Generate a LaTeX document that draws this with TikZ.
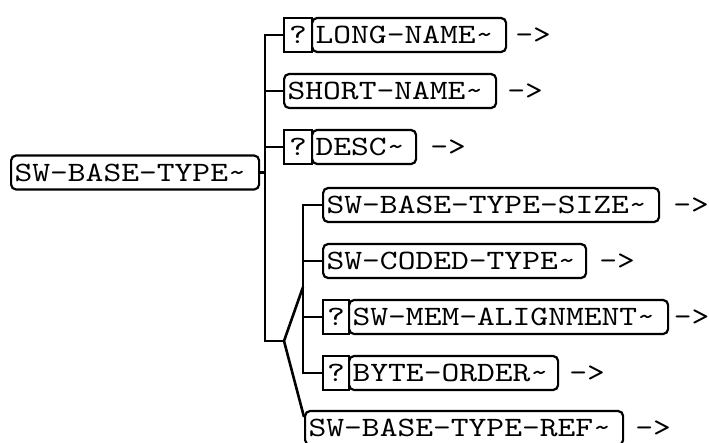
\documentclass[tikz,border=0pt]{standalone}
\usepackage{fontspec}
\newfontfamily\boxfont{lmmono10-regular.otf}[FakeStretch=1.21]
\begin{document}
\begin{tikzpicture}[x=1pt,y=-1pt,
  lbl/.style={font=\boxfont\fontsize{28}{30}\selectfont, text height=17pt, text depth=0pt},
  namebox/.style={lbl, draw, line width=2.2pt, rounded corners=5pt, anchor=west, minimum height=34pt, inner xsep=3.5pt, inner ysep=0pt, align=left},
  optbox/.style={lbl, draw, line width=2.2pt, anchor=west, minimum height=34pt, minimum width=#1, inner sep=0pt},
  arr/.style={lbl, anchor=west, inner sep=0pt},
  conn/.style={line width=2.6pt, line join=miter}
]
\useasboundingbox (0,0) rectangle (709,442);
% root
\node[namebox, text width=241pt] (root) at (10,172.5) {SW-BASE-TYPE\textasciitilde};
% level 1
\node[optbox=28pt] (lq) at (283,35) {?};
\node[namebox, text width=187pt] (ln) at (311,35) {LONG-NAME\textasciitilde};
\node[arr] (la) at ([xshift=8pt]ln.east) {->};
\node[namebox, text width=205pt] (sn) at (283,91) {SHORT-NAME\textasciitilde};
\node[arr] (sa) at ([xshift=10pt]sn.east) {->};
\node[optbox=28pt] (dq) at (283,147) {?};
\node[namebox, text width=97pt] (dn) at (311,147) {DESC\textasciitilde};
\node[arr] (da) at ([xshift=13pt]dn.east) {->};
% level 2
\node[namebox, text width=329pt] (sz) at (322,205) {SW-BASE-TYPE-SIZE\textasciitilde};
\node[arr] (sza) at ([xshift=13pt]sz.east) {->};
\node[namebox, text width=256pt] (cd) at (322,261) {SW-CODED-TYPE\textasciitilde};
\node[arr] (cda) at ([xshift=12pt]cd.east) {->};
\node[optbox=26pt] (mq) at (322,317) {?};
\node[namebox, text width=312pt] (mn) at (348,317) {SW-MEM-ALIGNMENT\textasciitilde};
\node[arr] (mna) at ([xshift=4.5pt]mn.east) {->};
\node[optbox=26pt] (bq) at (322,373) {?};
\node[namebox, text width=202pt] (bn) at (348,373) {BYTE-ORDER\textasciitilde};
\node[arr] (bna) at ([xshift=10pt]bn.east) {->};
\node[namebox, text width=311pt] (rf) at (304,428) {SW-BASE-TYPE-REF\textasciitilde};
\node[arr] (rfa) at ([xshift=11pt]rf.east) {->};
% connectors
\coordinate (t1top) at (265,35);
\coordinate (t1bot) at (265,341);
\coordinate (split) at (284,341);
\coordinate (t2top) at (303,205);
\coordinate (t2bot) at (303,373);
\coordinate (t2join) at (303,287);
\draw[conn] (lq.west) -- (t1top) -- (t1bot) -- (split);
\draw[conn] (sn.west) -- (sn.west -| t1top);
\draw[conn] (dq.west) -- (dq.west -| t1top);
\draw[conn] (root.east) -- (root.east -| t1top);
\draw[conn] (split) -- (t2join);
\draw[conn] (split) -- ([yshift=11pt]rf.west);
\draw[conn] (sz.west) -- (t2top) -- (t2bot) -- (bq.west);
\draw[conn] (cd.west) -- (cd.west -| t2top);
\draw[conn] (mq.west) -- (mq.west -| t2top);
\end{tikzpicture}
\end{document}
